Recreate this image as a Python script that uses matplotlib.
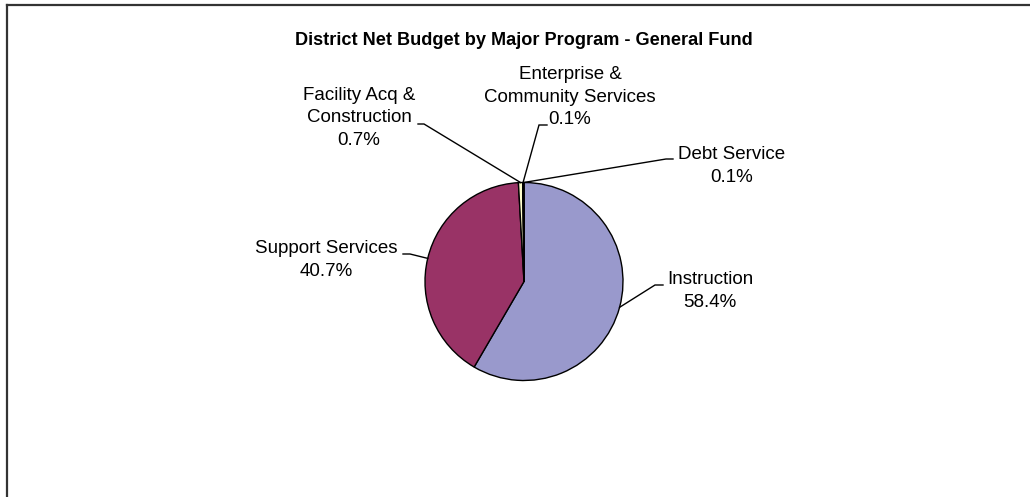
import numpy as np
import matplotlib
matplotlib.use("Agg")
import matplotlib.pyplot as plt
from matplotlib.lines import Line2D

W, H = 1030, 497

# Program shares of the general fund (percent)
programs = ["Instruction", "Support Services", "Facility Acq &\nConstruction",
            "Enterprise &\nCommunity Services", "Debt Service"]
shares = [58.4, 40.7, 0.7, 0.1, 0.1]
colors = ["#9999CC", "#993366", "#FFFFCC", "#CCFFFF", "#660066"]
title = "District Net Budget by Major Program - General Fund"

plt.rcParams["font.family"] = ["Liberation Sans", "DejaVu Sans"]

fig = plt.figure(figsize=(W / 100, H / 100), dpi=100)
ax = fig.add_axes([0, 0, 1, 1])

def py(y):
    # y measured downward from the top edge
    return H - y

cx, cy, r = 524, 281.5, 99
wedges, _ = ax.pie(shares, colors=colors, startangle=90, counterclock=False,
                   center=(cx, py(cy)), radius=r, frame=True,
                   wedgeprops=dict(edgecolor="black", linewidth=1.0))
ax.set_xlim(0, W)
ax.set_ylim(0, H)
ax.set_aspect("equal")
ax.set_axis_off()

# label block centre, line start on the text side, elbow
layout = [
    ((710, 291), (663, 285), (655, 285)),
    ((326, 260), (403, 254), (410, 254)),
    ((359, 118), (418, 124), (424, 124)),
    ((570, 97), (547, 125), (539, 125)),
    ((732, 166), (673, 159), (666, 159)),
]

for w, name, val, (tc, a, b) in zip(wedges, programs, shares, layout):
    ang = np.deg2rad((w.theta1 + w.theta2) / 2)
    ex = cx + r * np.cos(ang)
    ey = py(cy) + r * np.sin(ang)
    ax.plot([a[0], b[0], ex], [py(a[1]), py(b[1]), ey], color="black", lw=1.0,
            solid_joinstyle="miter")
    ax.text(tc[0], py(tc[1]), f"{name}\n{val:.1f}%", ha="center", va="center",
            fontsize=13.5, linespacing=1.4, color="black")

ax.text(524, py(45), title, ha="center", va="baseline", fontsize=13.1,
        fontweight="bold")

# chart frame (top and left edges visible)
fig.add_artist(Line2D([7 / W, 1], [1 - 5 / H, 1 - 5 / H], color="#333333", lw=1.6,
                      transform=fig.transFigure))
fig.add_artist(Line2D([7 / W, 7 / W], [0, 1 - 5 / H], color="#333333", lw=1.6,
                      transform=fig.transFigure))

fig.savefig("out.png", dpi=100, facecolor="white")
